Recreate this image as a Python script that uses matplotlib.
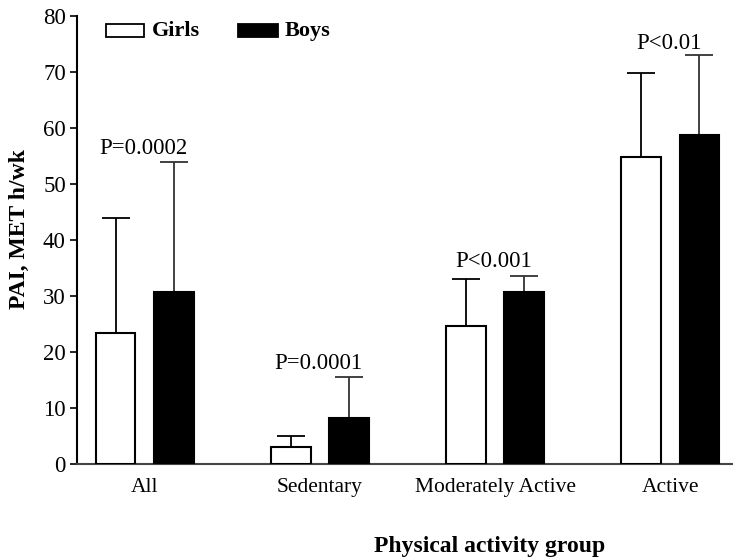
import numpy as np
import matplotlib.pyplot as plt
from matplotlib.patches import Rectangle

plt.rcParams['font.family'] = ['Liberation Serif', 'DejaVu Serif']

groups = ["All", "Sedentary", "Moderately Active", "Active"]
girls = [23.4, 3.1, 24.6, 54.8]
girls_err = [20.6, 1.9, 8.5, 15.1]
boys = [30.8, 8.2, 30.7, 58.7]
boys_err = [23.2, 7.4, 2.9, 14.3]
pvals = ["P=0.0002", "P=0.0001", "P<0.001", "P<0.01"]
pval_y = [55.4, 17.0, 35.2, 74.2]

fig = plt.figure(figsize=(7.33, 5.59), dpi=100)
ax = fig.add_axes([0.105, 0.170, 0.895, 0.801])

x = np.arange(len(groups))
w = 0.226
off = 0.166

ax.bar(x - off, girls, w, color="white", edgecolor="black", linewidth=1.5, zorder=3)
ax.bar(x + off, boys, w, color="black", edgecolor="black", linewidth=1.5, zorder=3)
ax.errorbar(x - off, girls, yerr=[np.zeros(4), girls_err], fmt="none",
            ecolor="black", elinewidth=1.3, capsize=10, capthick=1.3, zorder=2)
ax.errorbar(x + off, boys, yerr=[np.zeros(4), boys_err], fmt="none",
            ecolor="#333333", elinewidth=1.3, capsize=10, capthick=1.3, zorder=2)

for i, p in enumerate(pvals):
    ax.text(x[i] - 0.01, pval_y[i], p, ha="center", va="baseline", fontsize=16.5)

ax.set_xlim(-0.387, 3.358)
ax.set_ylim(0, 80)
ax.set_yticks(range(0, 81, 10))
ax.set_xticks(x)
ax.set_xticklabels(groups)
ax.tick_params(axis="x", length=0, labelsize=15.5, pad=10)
ax.tick_params(axis="y", length=5, width=1.2, labelsize=16.5, direction="out", pad=3)
ax.spines["top"].set_visible(False)
ax.spines["right"].set_visible(False)
ax.spines["left"].set_linewidth(1.5)
ax.spines["bottom"].set_linewidth(1.5)
ax.spines["bottom"].set_color("#444444")

fig.text(0.026, 0.591, "PAI, MET h/wk", rotation=90, ha="center", va="center",
         fontsize=17, fontweight="bold")
fig.text(0.668, 0.023, "Physical activity group", ha="center", va="center",
         fontsize=17, fontweight="bold")

# legend
ax.add_patch(Rectangle((0.045, 0.954), 0.057, 0.028, transform=ax.transAxes,
                       facecolor="white", edgecolor="black", linewidth=1.3, clip_on=False))
ax.text(0.114, 0.968, "Girls", transform=ax.transAxes, ha="left", va="center",
        fontsize=16, fontweight="bold")
ax.add_patch(Rectangle((0.245, 0.954), 0.061, 0.028, transform=ax.transAxes,
                       facecolor="black", edgecolor="black", linewidth=1.3, clip_on=False))
ax.text(0.317, 0.968, "Boys", transform=ax.transAxes, ha="left", va="center",
        fontsize=16, fontweight="bold")

fig.savefig("out.png", dpi=100)
